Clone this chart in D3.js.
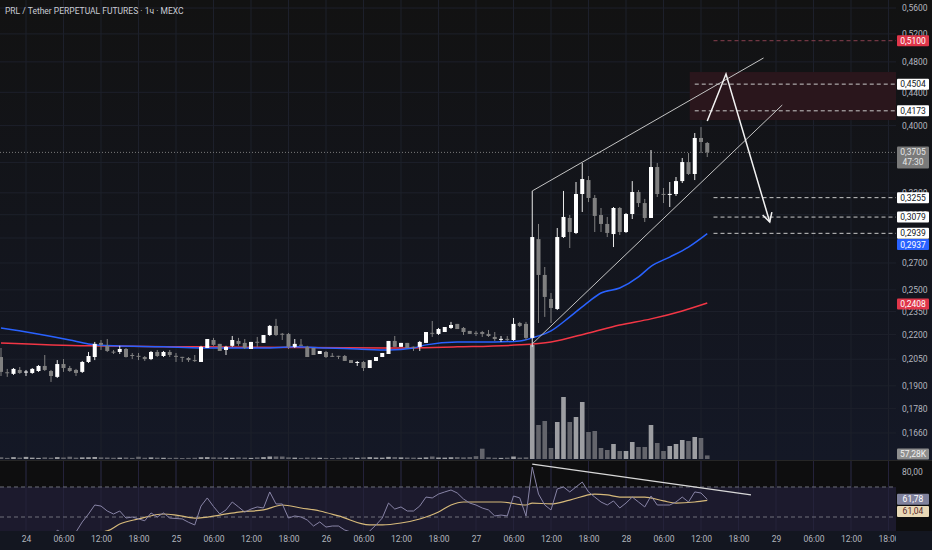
<!DOCTYPE html>
<html>
<head>
<meta charset="utf-8">
<script src="https://cdn.jsdelivr.net/npm/d3@7"></script>
<style>
	body { margin: 0; background: #131620; overflow: hidden; }
	svg { display: block; }
	text { font-family: Roboto, "Open Sans", sans-serif; }
</style>
</head>
<body>
<svg id="chart" width="932" height="550"></svg>
<script>
// hourly candles, first one is 23rd 20:00 (hour -4 from day 24 00:00)
const START_H = -4;

// [open, high, low, close]
const candles = [
	[.2063,.2117,.1954,.1977],[.1975,.1994,.1949,.1971],[.1966,.1999,.1960,.1994],[.1988,.2005,.1966,.1971],
	[.1975,.1988,.1954,.1979],[.1971,.1999,.1966,.1994],[.1982,.2016,.1977,.2011],[.2011,.2075,.1982,.1988],
	[.1982,.1988,.1921,.1954],[.1949,.2045,.1943,.2022],[.2022,.2051,.1977,.1999],[.1999,.2011,.1977,.1982],
	[.1988,.1994,.1954,.1971],[.1977,.2040,.1971,.2034],[.2034,.2093,.2028,.2069],[.2063,.2154,.2045,.2142],
	[.2148,.2166,.2105,.2136],[.2130,.2172,.2093,.2099],[.2095,.2105,.2081,.2093],[.2093,.2130,.2081,.2111],
	[.2111,.2117,.2060,.2063],[.2075,.2087,.2051,.2069],[.2070,.2087,.2045,.2068],[.2063,.2069,.2040,.2051],
	[.2051,.2099,.2045,.2093],[.2093,.2105,.2063,.2069],[.2069,.2099,.2063,.2093],[.2093,.2105,.2063,.2075],
	[.2070,.2087,.2034,.2068],[.2064,.2064,.2034,.2063],[.2057,.2063,.2034,.2045],[.2045,.2075,.2034,.2040],
	[.2034,.2130,.2034,.2124],[.2117,.2172,.2117,.2172],[.2166,.2179,.2130,.2136],[.2142,.2142,.2099,.2099],
	[.2105,.2130,.2075,.2124],[.2130,.2191,.2124,.2166],[.2160,.2179,.2130,.2142],[.2148,.2172,.2111,.2117],
	[.2111,.2154,.2111,.2154],[.2155,.2185,.2124,.2153],[.2148,.2197,.2148,.2197],[.2197,.2261,.2191,.2255],
	[.2255,.2301,.2191,.2197],[.2205,.2210,.2166,.2204],[.2204,.2210,.2111,.2124],[.2124,.2172,.2117,.2142],
	[.2137,.2172,.2130,.2136],[.2124,.2130,.2063,.2063],[.2117,.2117,.2075,.2075],[.2081,.2099,.2081,.2099],
	[.2093,.2099,.2057,.2063],[.2070,.2087,.2063,.2068],[.2070,.2070,.2051,.2068],[.2069,.2075,.2040,.2040],
	[.2045,.2045,.2028,.2028],[.2033,.2040,.2011,.2034],[.2034,.2040,.1982,.1999],[.1999,.2045,.1999,.2045],
	[.2040,.2063,.2040,.2063],[.2063,.2087,.2063,.2087],[.2081,.2160,.2081,.2160],[.2160,.2191,.2124,.2124],
	[.2124,.2148,.2124,.2148],[.2148,.2148,.2117,.2117],[.2125,.2125,.2099,.2124],[.2124,.2160,.2099,.2154],
	[.2148,.2216,.2148,.2216],[.2211,.2287,.2185,.2210],[.2204,.2242,.2197,.2235],[.2216,.2248,.2216,.2248],
	[.2242,.2281,.2235,.2261],[.2268,.2268,.2235,.2235],[.2242,.2248,.2197,.2216],[.2223,.2223,.2204,.2204],
	[.2211,.2223,.2191,.2210],[.2216,.2223,.2185,.2204],[.2204,.2229,.2185,.2191],[.2185,.2216,.2160,.2172],
	[.2171,.2191,.2154,.2173],[.2173,.2191,.2160,.2171],[.2166,.2307,.2160,.2268],[.2274,.2281,.2248,.2255],
	[.2268,.2281,.2166,.2179],[.2179,.3318,.2124,.2908],[.2891,.3019,.2274,.2609],[.2609,.2669,.2314,.2450],
	[.2436,.2478,.2274,.2374],[.2367,.2984,.2360,.2908],[.2908,.3318,.2900,.3080],[.3071,.3097,.2818,.2950],
	[.2942,.3404,.2933,.3289],[.3289,.3594,.3124,.3433],[.3423,.3463,.3214,.3252],[.3252,.3280,.2950,.3089],
	[.3097,.3160,.2950,.3019],[.3019,.3080,.2908,.2942],[.2933,.3169,.2826,.3160],[.3160,.3169,.2925,.2950],
	[.2950,.3115,.2942,.3106],[.3106,.3413,.3062,.3308],[.3308,.3327,.3169,.3205],[.3205,.3243,.3036,.3071],
	[.3071,.3730,.3071,.3553],[.3553,.3594,.3261,.3289],[.3290,.3346,.3205,.3288],[.3288,.3404,.3169,.3290],
	[.3289,.3453,.3271,.3413],[.3413,.3646,.3394,.3604],[.3604,.3698,.3473,.3483],[.3483,.3916,.3423,.3861],
	[.3861,.3983,.3698,.3817],[.3806,.3817,.3656,.3705]
];

// volume, thousands
const volumes = [
	28,18,30,22,34,22,18,26,20,30, 24,36,22,26,28,32,26,24,20,22,
	24,18,36,20,26,22,20,18,20,16, 18,20,28,30,26,24,22,20,26,22,
	18,26,30,40,40,40,26,22,18,24, 22,20,18,16,18,22,24,20,26,30,
	24,22,34,30,26,24,22,20,26,40, 24,22,28,30,26,30,45,165,26,20,
	18,22,40,22,26,
	1824,544,608,176,592,992,592,672,912,432,448,176,144,240,128,128,272,192,192,544,
	256,128,208,240,304,288,352,336,57.28
];

// moving averages, [candle index, price]
const maBlue = [[0,.2242],[5,.2210],[11,.2166],[14,.2142],[18,.2130],[26,.2124],[32,.2117],[42,.2117],
	[47,.2124],[52,.2117],[57,.2111],[62,.2105],[66,.2117],[68,.2136],[73,.2154],[79,.2154],[83,.2160],
	[85,.2179],[88,.2223],[91,.2314],[94,.2416],[96,.2478],[99,.2513],[102,.2594],[104,.2674],
	[107,.2746],[110,.2826],[113,.2937]];
const maRed = [[0,.2148],[14,.2130],[32,.2124],[62,.2117],[73,.2124],[83,.2136],[88,.2154],[94,.2210],
	[99,.2261],[104,.2301],[109,.2354],[113,.2408]];

// RSI per candle
const rsi = [
	35,36,38,37,38,39,40,38,36,41.2, 39,38,40,46.7,52,58,57.3,54,52,54,
	49.3,50,48.7,47.5,52.7,50,52.7,49.3,49,48.7, 46.5,44.7,57.3,62.7,57,52,54.7,60,56.7,53.3,
	55.3,56.7,56,66.7,58.7,58.7,49.3,50.7,50,48, 44,46.7,43.3,44,44,41.3,40,39.3,38,40.7,
	44.7,49.3,59.3,55.3,56.7,54,54,57.3,63.3,62.7, 65.3,66.7,68,66,62,59.3,58,56,54.7,50.7,
	51.3,50.7,64,62.7,50.7,83.3,65.3,58,54.7,68.7, 70,66.7,70,73.3,66.7,63.3,60,58,60.7,56,
	59.3,63.3,60,56.7,64,58,58,58,60,63.3, 60,66.7,66,61.78
];
const rsiMa = [[0,35],[10,37],[17,40.7],[19,45.3],[22,48.7],[26,52],[28,51.3],[31,49.3],[35,51.3],
	[38,53.3],[42,54.7],[45,58],[48,56],[51,54],[54,50.7],[59,44.7],[61,44.7],[64,46],[67,48.7],
	[70,53.3],[72,58],[74,60],[80,60],[84,58],[85,59.3],[88,58.7],[91,61.3],[95,65.3],[97,64.7],
	[99,63.3],[103,63.3],[106,60.7],[108,59.3],[111,60],[113,61.04]];

const gridTicks = [0.56, 0.52, 0.48, 0.44, 0.40, 0.36, 0.33, 0.31, 0.29, 0.27, 0.25, 0.235, 0.22, 0.205, 0.19, 0.178, 0.166];
const priceTicks = [0.56, 0.52, 0.48, 0.44, 0.40, 0.33, 0.31, 0.27, 0.25, 0.235, 0.22, 0.205, 0.19, 0.178, 0.166];
const timeTicks = d3.range(0, 139, 6);
const levels = [
	{ p: 0.5100, from: 114, red: true },
	{ p: 0.4504, from: 111 }, { p: 0.4173, from: 111 },
	{ p: 0.3255, from: 114 }, { p: 0.3079, from: 114 }, { p: 0.2939, from: 114 },
];
const zone = { from: 110.2, top: 0.4663, bottom: 0.4064 };
const channelUp = [[85, .3318], [122, .4854]];
const channelLow = [[85, .2142], [125, .4243]];
const arrowPath = [[113, .4053], [116, .4636], [123, .3036]];
const rsiTrend = [[85, 85.3], [120, 64.7]];
const lastPrice = 0.3705, countdown = '47:30';
const maBlueLast = 0.2937, maRedLast = 0.2408;

// layout
const PR = 896, MAIN_B = 460, RSI_T = 461, RSI_B = 531;
const svg = d3.select('#chart');

const x = d3.scaleLinear().domain([-4.16, 139.2]).range([0, PR]);
const cx = i => x(START_H + i);
const y = d3.scaleLog().domain([0.15365, 0.5730]).range([MAIN_B, 0]);
const yv = d3.scaleLinear().domain([0, 7344]).range([459, 0]);
const yr = d3.scaleLinear().domain([40.67, 87.33]).range([RSI_B, RSI_T]);
const fmt4 = v => d3.format('.4f')(v).replace('.', ',');
const fmt2 = v => d3.format('.2f')(v).replace('.', ',');

const defs = svg.append('defs');
let grad = defs.append('linearGradient').attr('id', 'bg').attr('x1', 0).attr('y1', 0).attr('x2', 0).attr('y2', 1);
grad.append('stop').attr('offset', '0%').attr('stop-color', '#121212');
grad.append('stop').attr('offset', '100%').attr('stop-color', '#141826');
defs.append('clipPath').attr('id', 'clipMain').append('rect').attr('width', PR).attr('height', MAIN_B);
defs.append('clipPath').attr('id', 'clipRsi').append('rect').attr('y', RSI_T).attr('width', PR).attr('height', RSI_B - RSI_T);
defs.append('clipPath').attr('id', 'clipTime').append('rect').attr('y', 0).attr('width', PR).attr('height', 19);

// backgrounds
svg.append('rect').attr('width', 932).attr('height', MAIN_B).attr('fill', 'url(#bg)');
svg.append('rect').attr('y', MAIN_B).attr('width', 932).attr('height', RSI_B - MAIN_B).attr('fill', '#0e0e0f');
svg.append('rect').attr('y', RSI_B).attr('width', 932).attr('height', 550 - RSI_B).attr('fill', '#131620');

// grid
let grid = svg.append('g');
grid.selectAll('.vg').data(timeTicks).enter().append('line')
	.attr('x1', d => x(d)).attr('x2', d => x(d)).attr('y1', 0).attr('y2', RSI_B)
	.attr('stroke', '#1d202b').attr('stroke-width', 1);
grid.selectAll('.hg').data(gridTicks).enter().append('line')
	.attr('x1', 0).attr('x2', PR).attr('y1', d => y(d)).attr('y2', d => y(d))
	.attr('stroke', '#1d202b').attr('stroke-width', 1);
grid.append('line').attr('x1', 0).attr('x2', 932).attr('y1', MAIN_B + 0.5).attr('y2', MAIN_B + 0.5).attr('stroke', '#262626');

// main pane
let main = svg.append('g').attr('clip-path', 'url(#clipMain)');

main.append('rect')
	.attr('x', cx(zone.from)).attr('y', y(zone.top))
	.attr('width', PR - cx(zone.from)).attr('height', y(zone.bottom) - y(zone.top))
	.attr('fill', '#2a161c');

main.selectAll('.lvl').data(levels).enter().append('line')
	.attr('x1', d => cx(d.from)).attr('x2', PR)
	.attr('y1', d => y(d.p)).attr('y2', d => y(d.p))
	.attr('stroke', d => d.red ? '#8a4050' : '#c8c8c8').attr('stroke-width', 1)
	.attr('stroke-dasharray', '4,3');

main.append('line').attr('x1', 0).attr('x2', PR).attr('y1', y(lastPrice)).attr('y2', y(lastPrice))
	.attr('stroke', '#7a7a7a').attr('stroke-width', 1).attr('stroke-dasharray', '1,2');

const isUp = d => d[3] >= d[0];
main.selectAll('.vol').data(volumes).enter().append('rect')
	.attr('x', (d, i) => cx(i) - 2.3).attr('width', 4.6)
	.attr('y', d => yv(d)).attr('height', d => 459 - yv(d))
	.attr('fill', (d, i) => isUp(candles[i]) ? '#9d9ea2' : '#64656c');

const maLine = d3.line().x(d => cx(d[0])).y(d => y(d[1])).curve(d3.curveMonotoneX);
main.append('path').attr('d', maLine(maRed)).attr('fill', 'none').attr('stroke', '#f23645').attr('stroke-width', 1.5);
main.append('path').attr('d', maLine(maBlue)).attr('fill', 'none').attr('stroke', '#2962ff').attr('stroke-width', 1.5);

let cg = main.selectAll('.candle').data(candles).enter().append('g');
cg.append('line')
	.attr('x1', (d, i) => cx(i)).attr('x2', (d, i) => cx(i))
	.attr('y1', d => y(d[1])).attr('y2', d => y(d[2]))
	.attr('stroke', d => isUp(d) ? '#e8e8e8' : '#808080').attr('stroke-width', 1);
cg.append('rect')
	.attr('x', (d, i) => cx(i) - 2).attr('width', 4)
	.attr('y', d => y(Math.max(d[0], d[3])))
	.attr('height', d => Math.max(1, y(Math.min(d[0], d[3])) - y(Math.max(d[0], d[3]))))
	.attr('fill', d => isUp(d) ? '#ffffff' : '#808080');

const ptLine = d3.line().x(d => cx(d[0])).y(d => y(d[1]));
main.append('path').attr('d', ptLine(channelUp)).attr('stroke', '#c4c4c4').attr('fill', 'none').attr('stroke-width', 1);
main.append('path').attr('d', ptLine(channelLow)).attr('stroke', '#c4c4c4').attr('fill', 'none').attr('stroke-width', 1);
main.append('path').attr('d', ptLine(arrowPath)).attr('stroke', '#f2f2f2').attr('fill', 'none').attr('stroke-width', 1.5);
{
	let a = arrowPath[arrowPath.length - 2], b = arrowPath[arrowPath.length - 1];
	let ex = cx(b[0]), ey = y(b[1]);
	let ang = Math.atan2(ey - y(a[1]), ex - cx(a[0]));
	let head = [-0.5, 0.5].map(o => [ex - 10 * Math.cos(ang + o), ey - 10 * Math.sin(ang + o)]);
	main.append('path')
		.attr('d', `M${head[0]}L${ex},${ey}L${head[1]}`)
		.attr('stroke', '#f2f2f2').attr('fill', 'none').attr('stroke-width', 1.5);
}

// RSI pane
let rp = svg.append('g').attr('clip-path', 'url(#clipRsi)');
rp.append('rect').attr('x', 0).attr('width', PR).attr('y', yr(70)).attr('height', RSI_B - yr(70)).attr('fill', '#1c1a2d');
rp.selectAll('.rg').data(timeTicks).enter().append('line')
	.attr('x1', d => x(d)).attr('x2', d => x(d)).attr('y1', RSI_T).attr('y2', RSI_B)
	.attr('stroke', '#24223a');
rp.selectAll('.band').data([70, 50]).enter().append('line')
	.attr('x1', 0).attr('x2', PR).attr('y1', d => yr(d)).attr('y2', d => yr(d))
	.attr('stroke', '#6e6f7a').attr('stroke-dasharray', '4,3');
rp.append('path').attr('d', d3.line().x(d => cx(d[0])).y(d => yr(d[1])).curve(d3.curveMonotoneX)(rsiMa))
	.attr('fill', 'none').attr('stroke', '#d6b97a').attr('stroke-width', 1.2);
rp.append('path').attr('d', d3.line().x((d, i) => cx(i)).y(d => yr(d))(rsi))
	.attr('fill', 'none').attr('stroke', '#8884a6').attr('stroke-width', 1);
rp.append('path').attr('d', d3.line().x(d => cx(d[0])).y(d => yr(d[1]))(rsiTrend))
	.attr('fill', 'none').attr('stroke', '#d8d8d8').attr('stroke-width', 1.3);

// axes
let priceAxis = svg.append('g').attr('transform', `translate(${PR},0)`)
	.call(d3.axisRight(y).tickValues(priceTicks).tickFormat(fmt4).tickSize(0).tickPadding(6));
let rsiAxis = svg.append('g').attr('transform', `translate(${PR},0)`)
	.call(d3.axisRight(yr).tickValues([80]).tickFormat(fmt2).tickSize(0).tickPadding(6));
let timeAxis = svg.append('g').attr('transform', `translate(0,${RSI_B})`).attr('clip-path', 'url(#clipTime)')
	.call(d3.axisBottom(x).tickValues(timeTicks).tickSize(0).tickPadding(5)
		.tickFormat(h => h % 24 === 0 ? String(24 + h / 24) : d3.format('02')(h % 24) + ':00'));
[priceAxis, rsiAxis, timeAxis].forEach(g => {
	g.select('.domain').remove();
	g.selectAll('text').attr('fill', '#b2b5be').style('font-size', '8.5px').style('font-family', 'Roboto, sans-serif');
});

// value boxes on the price scale
function box(cy, txt, bg, fg, h) {
	h = h || 11;
	let g = svg.append('g');
	g.append('rect').attr('x', PR + 1).attr('y', cy - h / 2).attr('width', 32).attr('height', h).attr('rx', 1).attr('fill', bg);
	g.append('text').attr('x', PR + 17).attr('y', cy + 3).attr('text-anchor', 'middle')
		.attr('fill', fg).style('font-size', '8.5px').text(txt);
	return g;
}
box(y(0.5100), fmt4(0.5100), '#e0364a', '#ffffff');
levels.filter(d => !d.red).forEach(d => box(y(d.p), fmt4(d.p), '#ffffff', '#131722'));
box(y(maBlueLast) + 11, fmt4(maBlueLast), '#2962ff', '#ffffff');
box(y(maRedLast) + 1, fmt4(maRedLast), '#e0364a', '#ffffff');
{
	let cy = y(lastPrice);
	let g = svg.append('g');
	g.append('rect').attr('x', PR + 1).attr('y', cy - 6).attr('width', 32).attr('height', 22).attr('rx', 1).attr('fill', '#7a7a7a');
	g.append('text').attr('x', PR + 17).attr('y', cy + 3).attr('text-anchor', 'middle').attr('fill', '#e6e6e6').style('font-size', '8.5px').text(fmt4(lastPrice));
	g.append('text').attr('x', PR + 17).attr('y', cy + 13).attr('text-anchor', 'middle').attr('fill', '#e6e6e6').style('font-size', '8.5px').text(countdown);
}
box(454, d3.format('.2f')(volumes[volumes.length - 1]).replace('.', ',') + 'K', '#8e8e8e', '#f0f0f0');
box(yr(rsi[rsi.length - 1]), fmt2(rsi[rsi.length - 1]), '#7f819c', '#ffffff');
box(yr(rsiMa[rsiMa.length - 1][1]) + 11, fmt2(rsiMa[rsiMa.length - 1][1]), '#e8d8b6', '#5a2a2a');

// title
svg.append('text').attr('x', 5).attr('y', 14).attr('fill', '#c9ccd4').style('font-size', '8.5px')
	.text('PRL / Tether PERPETUAL FUTURES · 1ч · MEXC');
</script>
</body>
</html>
